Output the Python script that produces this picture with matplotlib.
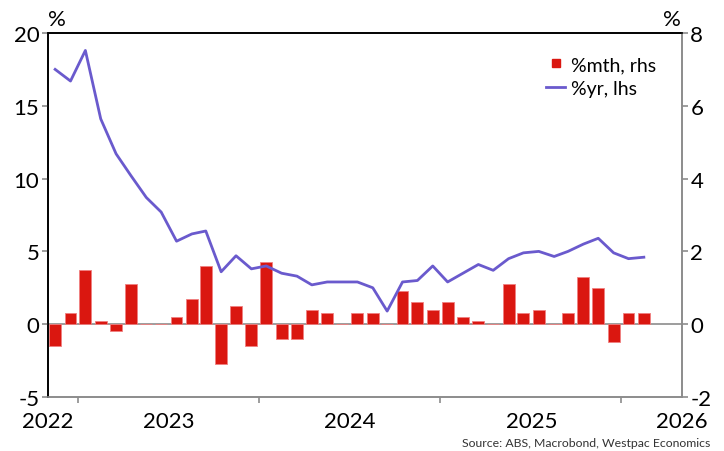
import numpy as np
import pandas as pd
import matplotlib
matplotlib.use("Agg")
import matplotlib.pyplot as plt
import matplotlib.dates as mdates
from matplotlib.lines import Line2D

plt.rcParams['font.family'] = ['Lato', 'DejaVu Sans']
plt.rcParams['axes.unicode_minus'] = False

# datos: mayo 2022 - agosto 2025
months = pd.date_range('2022-05-01', periods=40, freq='MS')

pct_mth = [-0.6, 0.3, 1.5, 0.1, -0.2, 1.1, 0.0, 0.0,
           0.2, 0.7, 1.6, -1.1, 0.5, -0.6, 1.7, -0.4, -0.4, 0.4, 0.3, 0.0,
           0.3, 0.3, 0.0, 0.9, 0.6, 0.4, 0.6, 0.2, 0.1, 0.0, 1.1, 0.3,
           0.4, 0.0, 0.3, 1.3, 1.0, -0.5, 0.3, 0.3]

pct_yr = [17.5, 16.7, 18.8, 14.1, 11.7, 10.2, 8.7, 7.7,
          5.7, 6.2, 6.4, 3.6, 4.7, 3.8, 4.0, 3.5, 3.3, 2.7, 2.9, 2.9,
          2.9, 2.5, 0.9, 2.9, 3.0, 4.0, 2.9, 3.5, 4.1, 3.7, 4.5, 4.9,
          5.0, 4.65, 5.0, 5.5, 5.9, 4.9, 4.5, 4.6]

year_labels = ['2022', '2023', '2024', '2025', '2026']

red = '#DA1710'
purple = '#6A5ACD'
grey = '#8c8c8c'

mid = months + pd.Timedelta(days=15)
xmin = pd.Timestamp('2022-05-01')
xmax = pd.Timestamp('2025-11-01')

fig = plt.figure(figsize=(7.24, 4.52), dpi=100)
ax = fig.add_axes([0.0659, 0.1195, 0.8761, 0.8053])
ax2 = ax.twinx()

ax2.bar(mid, pct_mth, width=24, color=red, edgecolor='#f08080', linewidth=0.6, zorder=2)
ax2.axhline(0, color=grey, lw=1.2, zorder=1)
ax.plot(mid, pct_yr, color=purple, lw=2, zorder=3)

ax.set_zorder(ax2.get_zorder() + 1)
ax.patch.set_visible(False)

ax.set_ylim(-5, 20)
ax.set_yticks([-5, 0, 5, 10, 15, 20])
ax2.set_ylim(-2, 8)
ax2.set_yticks([-2, 0, 2, 4, 6, 8])
ax.set_xlim(xmin, xmax)

# marcas en julio, etiquetas en enero y en los bordes
ax.set_xticks([pd.Timestamp(f'{y}-07-01') for y in range(2022, 2026)])
ax.set_xticklabels([])
lab_pos = [xmin] + [pd.Timestamp(f'{y}-01-01') for y in (2023, 2024, 2025)] + [xmax]
ax.set_xticks(lab_pos, minor=True)
ax.set_xticklabels(year_labels, minor=True)
ax.tick_params(axis='x', which='major', length=4, color=grey, width=1.2, direction='out')
ax.tick_params(axis='x', which='minor', length=0, pad=10, labelsize=16)

ax.tick_params(axis='y', length=4, color=grey, width=1.2, labelsize=16, pad=2)
ax2.tick_params(axis='y', length=4, color=grey, width=1.2, labelsize=16, pad=2)

for a in (ax, ax2):
    a.spines['top'].set_color('black')
    a.spines['left'].set_color('black')
    a.spines['right'].set_color(grey)
    a.spines['bottom'].set_color(grey)
    for s in a.spines.values():
        s.set_linewidth(1.2)

fig.text(0.079, 0.955, '%', fontsize=16, ha='center', va='center')
fig.text(0.928, 0.955, '%', fontsize=16, ha='center', va='center')

handles = [Line2D([], [], marker='s', color=red, ls='none', markersize=6),
           Line2D([], [], color=purple, lw=2)]
ax.legend(handles, ['%mth, rhs', '%yr, lhs'], loc='upper right', frameon=False,
          fontsize=14, handlelength=1.0, handletextpad=0.3, borderaxespad=0.6,
          labelspacing=0.35, bbox_to_anchor=(0.99, 0.99))

fig.text(0.981, 0.018, 'Source: ABS, Macrobond, Westpac Economics', fontsize=8.8,
         ha='right', va='center', color='#333333')

fig.savefig('out.png', dpi=100)
